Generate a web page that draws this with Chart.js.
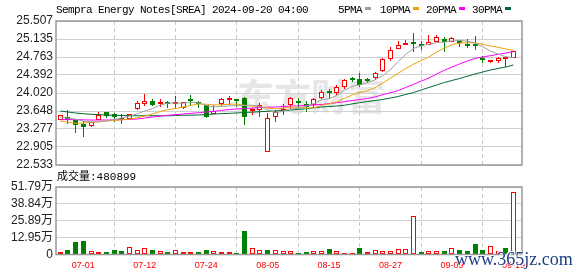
<!DOCTYPE html>
<html>
<head>
<meta charset="utf-8">
<script src="https://cdn.jsdelivr.net/npm/chart.js@4.4.1/dist/chart.umd.min.js"></script>
<style>
  body { margin: 0; background: #fff; }
  #wrap { position: relative; width: 578px; height: 276px; overflow: hidden; background: #fff; }
  canvas { position: absolute; left: 0; }
  #mainChart { top: 0; }
  #volChart { top: 170px; }
  .txt { position: absolute; font: 11px "Liberation Mono", monospace; letter-spacing: -0.6px; color: #000; white-space: nowrap; line-height: 12px; }
  .sw { position: absolute; width: 6px; height: 3px; top: 7px; }
  #logo { position: absolute; left: 237px; top: 68px; font: bold 37px "Noto Sans CJK SC"; color: #e6e6e6; white-space: nowrap; }
  #volLabel { position: absolute; left: 57px; top: 171px; font: 11px "Liberation Mono", "Noto Sans CJK SC", monospace; color: #000; white-space: nowrap; line-height: 13px; }
  #site { position: absolute; left: 455px; top: 249px; font: 18px "Liberation Serif", serif; color: #1d3f82; white-space: nowrap; text-shadow: 1px 1px 0 #fff, -1px -1px 0 #fff; }
</style>
</head>
<body>
<div id="wrap">
  <div id="logo">东方财富</div>
  <canvas id="mainChart" width="578" height="180"></canvas>
  <canvas id="volChart" width="578" height="106"></canvas>
  <div class="txt" style="left:56px;top:4px">Sempra Energy Notes[SREA] 2024-09-20 04:00</div>
  <div class="txt" style="left:338px;top:4px">5PMA</div>
  <div class="sw" style="left:365px;background:#a0a0a0"></div>
  <div class="txt" style="left:380px;top:4px">10PMA</div>
  <div class="sw" style="left:413px;background:#f0a30a"></div>
  <div class="txt" style="left:426px;top:4px">20PMA</div>
  <div class="sw" style="left:459px;background:#ff00ff"></div>
  <div class="txt" style="left:472px;top:4px">30PMA</div>
  <div class="sw" style="left:505px;background:#006a35"></div>
  <div id="volLabel">成交量:480899</div>
  <div id="site">www.365jz.com</div>
</div>
<script>
// daily prices, 06-26 .. 09-19
const openP = [23.462, 23.524, 23.456, 23.374, 23.332, 23.456, 23.62, 23.58, 23.50, 23.483,
    23.683, 23.80, 23.855, 23.79, 23.814, 23.79, 23.72, 23.876, 23.83, 23.77,
    23.59, 23.80, 23.875, 23.89, 23.91, 23.64, 23.66, 22.795, 23.53, 23.65,
    23.77, 23.83, 23.79, 23.78, 23.92, 24.03, 24.03, 24.14, 24.30, 24.30,
    24.29, 24.32, 24.47, 24.73, 24.92, 25.015, 25.07, 25.02, 25.01, 25.08,
    25.135, 25.08, 25.08, 25.04, 25.01, 24.72, 24.654, 24.68, 24.715, 24.75];
const highP = [23.57, 23.663, 23.49, 23.44, 23.415, 23.62, 23.62, 23.60, 23.59, 23.59,
    23.855, 23.994, 23.896, 23.896, 23.855, 23.96, 23.83, 23.98, 23.855, 23.77,
    23.77, 23.92, 23.96, 23.89, 23.94, 23.71, 23.81, 23.60, 23.66, 23.79,
    23.94, 23.92, 23.85, 23.92, 24.09, 24.10, 24.19, 24.31, 24.36, 24.43,
    24.33, 24.46, 24.74, 24.98, 25.09, 25.11, 25.25, 25.09, 25.22, 25.22,
    25.17, 25.18, 25.11, 25.135, 25.20, 24.78, 24.705, 24.77, 24.75, 24.89];
const lowP = [23.46, 23.374, 23.20, 23.117, 23.31, 23.456, 23.50, 23.43, 23.386, 23.483,
    23.66, 23.76, 23.745, 23.73, 23.72, 23.71, 23.68, 23.75, 23.70, 23.50,
    23.58, 23.76, 23.77, 23.74, 23.35, 23.57, 23.52, 22.795, 23.43, 23.57,
    23.68, 23.71, 23.62, 23.72, 23.89, 23.89, 23.98, 24.10, 24.25, 24.15,
    24.22, 24.29, 24.46, 24.69, 24.92, 25.015, 24.86, 24.91, 25.01, 25.07,
    24.87, 25.07, 24.96, 24.955, 24.91, 24.63, 24.63, 24.63, 24.55, 24.75];
const closeP = [23.566, 23.469, 23.36, 23.312, 23.415, 23.566, 23.55, 23.524, 23.47, 23.59,
    23.807, 23.85, 23.77, 23.835, 23.79, 23.82, 23.83, 23.85, 23.80, 23.53,
    23.65, 23.89, 23.895, 23.86, 23.52, 23.68, 23.77, 23.497, 23.63, 23.66,
    23.91, 23.81, 23.74, 23.89, 24.05, 24.01, 24.15, 24.28, 24.29, 24.19,
    24.27, 24.43, 24.72, 24.91, 25.01, 25.025, 25.035, 24.995, 25.07, 25.18,
    25.08, 25.15, 25.05, 24.995, 24.985, 24.70, 24.705, 24.737, 24.722, 24.89];
const volume = [17000, 34500, 96000, 104000, 24000, 17000, 19000, 34500, 27000, 55000,
    32000, 47000, 34500, 24000, 19000, 32000, 17000, 17000, 19000, 34500,
    24000, 17000, 17000, 11500, 183000, 47000, 32000, 34500, 32000, 24000,
    24000, 11500, 19000, 24000, 24000, 42000, 24000, 11500, 11500, 50000,
    17000, 32000, 24000, 24000, 45000, 42000, 295000, 19000, 24000, 24000,
    24000, 47000, 34500, 27000, 80000, 34500, 63000, 27000, 50000, 480899];

// moving average lines
const ma5 = [23.52, 23.50, 23.48, 23.44, 23.424, 23.424, 23.441, 23.473, 23.505, 23.54,
    23.588, 23.648, 23.697, 23.77, 23.81, 23.813, 23.809, 23.825, 23.818, 23.766,
    23.732, 23.744, 23.752, 23.764, 23.762, 23.768, 23.744, 23.665, 23.619, 23.647,
    23.693, 23.701, 23.75, 23.802, 23.88, 23.90, 23.968, 24.076, 24.156, 24.184,
    24.236, 24.292, 24.38, 24.504, 24.668, 24.819, 24.94, 24.995, 25.027, 25.061,
    25.072, 25.095, 25.106, 25.091, 25.052, 24.976, 24.887, 24.824, 24.77, 24.751];
const ma10 = [23.442, 23.415, 23.395, 23.40, 23.415, 23.427, 23.442, 23.452, 23.466, 23.482,
    23.506, 23.544, 23.585, 23.638, 23.675, 23.701, 23.729, 23.761, 23.794, 23.788,
    23.773, 23.777, 23.789, 23.791, 23.764, 23.75, 23.744, 23.709, 23.692, 23.705,
    23.731, 23.723, 23.708, 23.711, 23.764, 23.797, 23.835, 23.913, 23.979, 24.032,
    24.068, 24.13, 24.228, 24.33, 24.426, 24.528, 24.616, 24.688, 24.766, 24.865,
    24.946, 25.018, 25.051, 25.059, 25.057, 25.024, 24.991, 24.965, 24.93, 24.901];
const ma20 = [23.47, 23.47, 23.47, 23.466, 23.462, 23.462, 23.462, 23.465, 23.468, 23.475,
    23.483, 23.503, 23.524, 23.542, 23.56, 23.573, 23.586, 23.60, 23.613, 23.628,
    23.64, 23.66, 23.68, 23.69, 23.70, 23.71, 23.72, 23.726, 23.731, 23.74,
    23.75, 23.755, 23.762, 23.772, 23.783, 23.80, 23.818, 23.84, 23.865, 23.885,
    23.905, 23.94, 23.985, 24.025, 24.07, 24.135, 24.20, 24.265, 24.33, 24.41,
    24.49, 24.555, 24.62, 24.68, 24.735, 24.765, 24.79, 24.818, 24.846, 24.873];
const ma30 = [23.648, 23.627, 23.607, 23.593, 23.58, 23.573, 23.566, 23.56, 23.555, 23.552,
    23.55, 23.55, 23.55, 23.55, 23.55, 23.555, 23.56, 23.563, 23.566, 23.576,
    23.586, 23.593, 23.60, 23.608, 23.617, 23.625, 23.634, 23.641, 23.648, 23.658,
    23.669, 23.682, 23.696, 23.713, 23.731, 23.741, 23.752, 23.767, 23.795, 23.82,
    23.845, 23.866, 23.886, 23.917, 23.948, 23.99, 24.03, 24.082, 24.134, 24.185,
    24.237, 24.278, 24.32, 24.366, 24.412, 24.453, 24.495, 24.526, 24.557, 24.598];

// axis ticks
const xTickIdx = [3, 11, 19, 27, 35, 43, 51, 59];
const xTickLabels = ['07-01', '07-12', '07-24', '08-05', '08-15', '08-27', '09-09', '09-19'];
const priceTickLabels = ['22.533', '22.905', '23.277', '23.648', '24.020', '24.392', '24.763', '25.135', '25.507'];
const volTickValues = [0, 129475, 258950, 388425, 517900];
const volTickLabels = ['0', '12.95万', '25.89万', '38.84万', '51.79万'];

const RED = '#ff0000';
const GREEN = '#008000';
const candleUp = closeP.map((c, i) => c >= openP[i]);
const volUp = closeP.map((c, i) => i === 0 ? c >= openP[0] : c >= closeP[i - 1]);

const X_MIN = -0.56, X_MAX = 60.12;

function xAxis(showLabels) {
    return {
        type: 'linear',
        min: X_MIN,
        max: X_MAX,
        offset: false,
        afterBuildTicks: s => { s.ticks = xTickIdx.map(v => ({ value: v })); },
        afterFit: s => { s.height = showLabels ? 21.5 : 0; },
        grid: { color: '#c8c8c8', drawTicks: false },
        border: { display: false, dash: [4, 3] },
        ticks: {
            display: showLabels,
            autoSkip: false,
            maxRotation: 0,
            padding: 6,
            color: RED,
            font: { family: 'Liberation Sans', size: 9 },
            callback: (v, i) => xTickLabels[i]
        }
    };
}

// grey frame round the plot area
const framePlugin = {
    id: 'frame',
    afterDatasetsDraw(chart) {
        const { ctx, chartArea: a } = chart;
        ctx.save();
        ctx.strokeStyle = '#999';
        ctx.lineWidth = 1.5;
        ctx.strokeRect(a.left, a.top, a.right - a.left, a.bottom - a.top);
        ctx.restore();
    }
};

// snap bars to whole pixels so the 1px outlines stay sharp
const snapPlugin = {
    id: 'snap',
    afterDatasetsUpdate(chart) {
        chart.getSortedVisibleDatasetMetas().forEach(meta => {
            if (meta.type !== 'bar') return;
            meta.data.forEach(el => {
                el.x = Math.floor(el.x) + 0.5;
                el.y = Math.round(el.y);
                el.base = Math.round(el.base);
            });
        });
    }
};

function maLine(label, values, color) {
    return {
        type: 'line',
        label: label,
        data: values.map((v, i) => ({ x: i, y: v })),
        borderColor: color,
        borderWidth: 1,
        pointRadius: 0,
        tension: 0,
        order: 0
    };
}

function valueAxis(min, max, values, labels, family) {
    return {
        min: min,
        max: max,
        afterBuildTicks: s => { s.ticks = values.map(v => ({ value: v })); },
        afterFit: s => { s.width = 56; },
        grid: { color: '#d0d0d0', drawTicks: false },
        border: { display: false },
        ticks: {
            autoSkip: false,
            padding: 3,
            color: '#222',
            font: { family: family, size: 12 },
            callback: (v, i) => labels[i]
        }
    };
}

new Chart(document.getElementById('mainChart'), {
    type: 'bar',
    data: {
        datasets: [
            maLine('5PMA', ma5, '#a0a0a0'),
            maLine('10PMA', ma10, '#f0a30a'),
            maLine('20PMA', ma20, '#ff00ff'),
            maLine('30PMA', ma30, '#006a35'),
            {
                label: 'body',
                data: openP.map((o, i) => ({ x: i, y: [o, closeP[i]] })),
                backgroundColor: candleUp.map(u => u ? '#ffffff' : GREEN),
                borderColor: candleUp.map(u => u ? RED : GREEN),
                borderWidth: 1,
                borderSkipped: false,
                barThickness: 5,
                minBarLength: 2,
                inflateAmount: 0,
                grouped: false,
                order: 1
            },
            {
                label: 'wick',
                data: lowP.map((l, i) => ({ x: i, y: [l, highP[i]] })),
                backgroundColor: candleUp.map(u => u ? RED : GREEN),
                borderWidth: 0,
                barThickness: 1,
                inflateAmount: 0,
                grouped: false,
                order: 2
            }
        ]
    },
    options: {
        responsive: false,
        animation: false,
        events: [],
        layout: { padding: { left: 0, top: 21, right: 56, bottom: 15 } },
        plugins: { legend: { display: false }, tooltip: { enabled: false } },
        scales: {
            x: xAxis(false),
            y: valueAxis(22.533, 25.507, priceTickLabels.map(Number), priceTickLabels, 'Liberation Sans')
        }
    },
    plugins: [snapPlugin, framePlugin]
});

new Chart(document.getElementById('volChart'), {
    type: 'bar',
    data: {
        datasets: [{
            label: 'volume',
            data: volume.map((v, i) => ({ x: i, y: v })),
            backgroundColor: volUp.map(u => u ? '#ffffff' : GREEN),
            borderColor: volUp.map(u => u ? RED : GREEN),
            borderWidth: 1,
            borderSkipped: false,
            barThickness: 5,
            inflateAmount: 0,
            grouped: false
        }]
    },
    options: {
        responsive: false,
        animation: false,
        events: [],
        layout: { padding: { left: 0, top: 17, right: 56, bottom: 0 } },
        plugins: { legend: { display: false }, tooltip: { enabled: false } },
        scales: {
            x: xAxis(true),
            y: valueAxis(0, 517900, volTickValues, volTickLabels, "'Liberation Sans', 'Noto Sans CJK SC'")
        }
    },
    plugins: [snapPlugin, framePlugin]
});
</script>
</body>
</html>
